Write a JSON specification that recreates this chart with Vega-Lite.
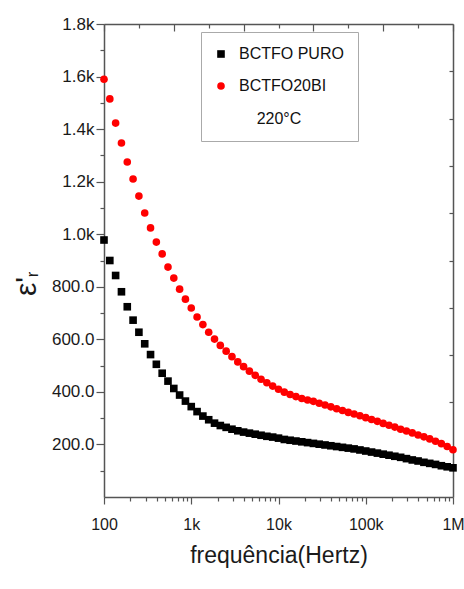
{
  "$schema": "https://vega.github.io/schema/vega-lite/v6.json",
  "width": 349,
  "height": 473,
  "autosize": "none",
  "padding": {"left": 104, "top": 24, "right": 11, "bottom": 92},
  "background": "white",
  "config": {
    "view": {"stroke": null},
    "font": "Liberation Sans, Arial, sans-serif",
    "axis": {
      "grid": false,
      "domainColor": "#555555",
      "domainWidth": 1.5,
      "tickColor": "#555555",
      "tickWidth": 1.2,
      "labelColor": "#1a1a1a",
      "titleColor": "#1a1a1a",
      "titleFontWeight": "normal",
      "labelFont": "Liberation Sans, Arial, sans-serif",
      "titleFont": "Liberation Sans, Arial, sans-serif"
    },
    "legend": {
      "labelFont": "Liberation Sans, Arial, sans-serif",
      "titleFont": "Liberation Sans, Arial, sans-serif"
    }
  },
  "data": {
    "values": [
      {"f": 100, "BCTFO PURO": 978, "BCTFO20BI": 1590},
      {"f": 116.6, "BCTFO PURO": 900, "BCTFO20BI": 1515},
      {"f": 135.9, "BCTFO PURO": 843, "BCTFO20BI": 1423},
      {"f": 158.5, "BCTFO PURO": 781, "BCTFO20BI": 1347},
      {"f": 184.8, "BCTFO PURO": 724, "BCTFO20BI": 1275},
      {"f": 215.4, "BCTFO PURO": 673, "BCTFO20BI": 1210},
      {"f": 251.2, "BCTFO PURO": 627, "BCTFO20BI": 1145},
      {"f": 292.9, "BCTFO PURO": 583, "BCTFO20BI": 1081},
      {"f": 341.5, "BCTFO PURO": 542, "BCTFO20BI": 1024},
      {"f": 398.1, "BCTFO PURO": 505, "BCTFO20BI": 970},
      {"f": 464.2, "BCTFO PURO": 471, "BCTFO20BI": 925},
      {"f": 541.2, "BCTFO PURO": 441, "BCTFO20BI": 875},
      {"f": 631, "BCTFO PURO": 413, "BCTFO20BI": 833},
      {"f": 735.6, "BCTFO PURO": 388, "BCTFO20BI": 791},
      {"f": 857.7, "BCTFO PURO": 365, "BCTFO20BI": 753},
      {"f": 1000, "BCTFO PURO": 344, "BCTFO20BI": 719},
      {"f": 1166, "BCTFO PURO": 325, "BCTFO20BI": 685},
      {"f": 1359, "BCTFO PURO": 308, "BCTFO20BI": 656},
      {"f": 1585, "BCTFO PURO": 294, "BCTFO20BI": 627},
      {"f": 1848, "BCTFO PURO": 281, "BCTFO20BI": 601},
      {"f": 2154, "BCTFO PURO": 272, "BCTFO20BI": 577},
      {"f": 2512, "BCTFO PURO": 265, "BCTFO20BI": 555},
      {"f": 2929, "BCTFO PURO": 258, "BCTFO20BI": 534},
      {"f": 3415, "BCTFO PURO": 252, "BCTFO20BI": 514},
      {"f": 3981, "BCTFO PURO": 247, "BCTFO20BI": 496},
      {"f": 4642, "BCTFO PURO": 243, "BCTFO20BI": 479},
      {"f": 5412, "BCTFO PURO": 239, "BCTFO20BI": 463},
      {"f": 6310, "BCTFO PURO": 235, "BCTFO20BI": 448},
      {"f": 7356, "BCTFO PURO": 231, "BCTFO20BI": 435},
      {"f": 8577, "BCTFO PURO": 228, "BCTFO20BI": 422},
      {"f": 10000, "BCTFO PURO": 224, "BCTFO20BI": 410},
      {"f": 11659, "BCTFO PURO": 219, "BCTFO20BI": 399},
      {"f": 13594, "BCTFO PURO": 216, "BCTFO20BI": 390},
      {"f": 15849, "BCTFO PURO": 213, "BCTFO20BI": 382},
      {"f": 18478, "BCTFO PURO": 210, "BCTFO20BI": 375},
      {"f": 21544, "BCTFO PURO": 207, "BCTFO20BI": 369},
      {"f": 25119, "BCTFO PURO": 204, "BCTFO20BI": 364},
      {"f": 29286, "BCTFO PURO": 201, "BCTFO20BI": 357},
      {"f": 34145, "BCTFO PURO": 198, "BCTFO20BI": 350},
      {"f": 39811, "BCTFO PURO": 195, "BCTFO20BI": 343},
      {"f": 46416, "BCTFO PURO": 192, "BCTFO20BI": 336},
      {"f": 54117, "BCTFO PURO": 189, "BCTFO20BI": 329},
      {"f": 63096, "BCTFO PURO": 186, "BCTFO20BI": 322},
      {"f": 73564, "BCTFO PURO": 183, "BCTFO20BI": 316},
      {"f": 85770, "BCTFO PURO": 179, "BCTFO20BI": 309},
      {"f": 100000, "BCTFO PURO": 175, "BCTFO20BI": 302},
      {"f": 116590, "BCTFO PURO": 171, "BCTFO20BI": 295},
      {"f": 135940, "BCTFO PURO": 167, "BCTFO20BI": 288},
      {"f": 158490, "BCTFO PURO": 163, "BCTFO20BI": 280},
      {"f": 184780, "BCTFO PURO": 159, "BCTFO20BI": 273},
      {"f": 215440, "BCTFO PURO": 155, "BCTFO20BI": 266},
      {"f": 251190, "BCTFO PURO": 151, "BCTFO20BI": 258},
      {"f": 292860, "BCTFO PURO": 146, "BCTFO20BI": 251},
      {"f": 341450, "BCTFO PURO": 141, "BCTFO20BI": 244},
      {"f": 398110, "BCTFO PURO": 137, "BCTFO20BI": 236},
      {"f": 464160, "BCTFO PURO": 132, "BCTFO20BI": 229},
      {"f": 541170, "BCTFO PURO": 128, "BCTFO20BI": 221},
      {"f": 630960, "BCTFO PURO": 124, "BCTFO20BI": 212},
      {"f": 735640, "BCTFO PURO": 119, "BCTFO20BI": 203},
      {"f": 857700, "BCTFO PURO": 115, "BCTFO20BI": 192},
      {"f": 1000000, "BCTFO PURO": 111, "BCTFO20BI": 180}
    ]
  },
  "transform": [{"fold": ["BCTFO PURO", "BCTFO20BI"], "as": ["serie", "er"]}],
  "layer": [
    {
      "mark": {"type": "point", "filled": true, "opacity": 1, "size": 58},
      "encoding": {
        "x": {
          "field": "f", "type": "quantitative",
          "scale": {"type": "log", "domain": [100, 1000000], "nice": false},
          "axis": {
            "orient": "bottom",
            "values": [100, 1000, 10000, 100000, 1000000],
            "labelExpr": "datum.value >= 1000000 ? '1M' : datum.value >= 1000 ? format(datum.value / 1000, 'd') + 'k' : format(datum.value, 'd')",
            "tickSize": 7,
            "labelPadding": 12,
            "labelFontSize": 16,
            "labelFlush": false,
            "labelOverlap": false,
            "title": "frequência(Hertz)",
            "titleFontSize": 23,
            "titleBaseline": "top",
            "titleY": 47
          }
        },
        "y": {
          "field": "er", "type": "quantitative",
          "scale": {"domain": [0, 1800], "nice": false, "zero": false},
          "axis": {
            "orient": "left",
            "values": [200, 400, 600, 800, 1000, 1200, 1400, 1600, 1800],
            "labelExpr": "datum.value >= 1000 ? format(datum.value / 1000, '.1f') + 'k' : format(datum.value, '.1f')",
            "tickSize": 8,
            "labelPadding": 2,
            "labelFontSize": 17,
            "labelOverlap": false,
            "labelFlush": false,
            "title": "ε'",
            "titleFontSize": 30,
            "titleAngle": 270,
            "titleAlign": "center",
            "titleBaseline": "alphabetic",
            "titleX": -69,
            "titleY": 262
          }
        },
        "color": {
          "field": "serie", "type": "nominal",
          "scale": {"domain": ["BCTFO PURO", "BCTFO20BI"], "range": ["#000000", "#ff0000"]},
          "legend": {
            "orient": "none", "legendX": 97, "legendY": 8,
            "title": "220°C", "titleOrient": "bottom", "titleAnchor": "middle",
            "titleFontSize": 16, "titleFontWeight": "normal", "titleColor": "#111111",
            "labelFontSize": 16, "labelColor": "#111111", "labelOffset": 10,
            "symbolSize": 58, "symbolOffset": -2, "rowPadding": 16, "titlePadding": 17,
            "padding": 14, "strokeColor": "#aaaaaa", "fillColor": "white"
          }
        },
        "shape": {
          "field": "serie", "type": "nominal",
          "scale": {"domain": ["BCTFO PURO", "BCTFO20BI"], "range": ["square", "circle"]},
          "legend": {
            "orient": "none", "legendX": 97, "legendY": 8,
            "title": "220°C", "titleOrient": "bottom", "titleAnchor": "middle",
            "titleFontSize": 16, "titleFontWeight": "normal", "titleColor": "#111111",
            "labelFontSize": 16, "labelColor": "#111111", "labelOffset": 10,
            "symbolSize": 58, "symbolOffset": -2, "rowPadding": 16, "titlePadding": 17,
            "padding": 14, "strokeColor": "#aaaaaa", "fillColor": "white"
          }
        }
      }
    },
    {
      "mark": {"type": "point", "opacity": 0},
      "encoding": {
        "x": {
          "field": "f", "type": "quantitative",
          "axis": {
            "orient": "bottom",
            "values": [200, 300, 400, 500, 600, 700, 800, 900, 2000, 3000, 4000, 5000, 6000, 7000, 8000, 9000, 20000, 30000, 40000, 50000, 60000, 70000, 80000, 90000, 200000, 300000, 400000, 500000, 600000, 700000, 800000, 900000],
            "labels": false, "domain": false, "tickSize": 4, "title": null
          }
        },
        "y": {
          "field": "er", "type": "quantitative",
          "axis": {
            "orient": "left",
            "values": [100, 300, 500, 700, 900, 1100, 1300, 1500, 1700],
            "labels": false, "domain": false, "tickSize": 4,
            "title": "r",
            "titleFontSize": 17,
            "titleAngle": 270,
            "titleAlign": "center",
            "titleBaseline": "alphabetic",
            "titleX": -67,
            "titleY": 250
          }
        }
      }
    },
    {
      "mark": {"type": "point", "opacity": 0},
      "encoding": {
        "x": {
          "field": "f", "type": "quantitative",
          "axis": {
            "orient": "top",
            "values": [100, 630.96, 3981.1, 25119, 158489, 1000000],
            "labels": false, "domain": true, "tickSize": -7, "title": null
          }
        },
        "y": {
          "field": "er", "type": "quantitative",
          "axis": {
            "orient": "right",
            "values": [180, 360, 540, 720, 900, 1080, 1260, 1440, 1620],
            "labels": false, "domain": true, "tickSize": -4, "title": null
          }
        }
      }
    },
    {
      "mark": {"type": "point", "opacity": 0},
      "encoding": {
        "x": {
          "field": "f", "type": "quantitative",
          "axis": {
            "orient": "top",
            "values": [251.19, 1584.9, 10000, 63096, 398107],
            "labels": false, "domain": false, "tickSize": -4, "title": null
          }
        },
        "y": {"field": "er", "type": "quantitative", "axis": null}
      }
    }
  ],
  "resolve": {"axis": {"x": "independent", "y": "independent"}}
}
